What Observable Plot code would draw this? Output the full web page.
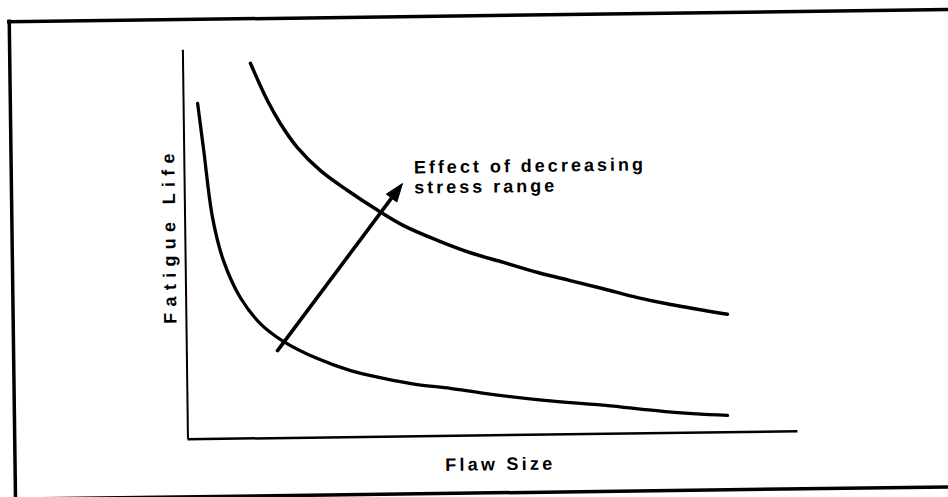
<!DOCTYPE html>
<html>
<head>
<meta charset="utf-8">
<script src="https://cdn.jsdelivr.net/npm/d3@7"></script>
<script src="https://cdn.jsdelivr.net/npm/@observablehq/plot@0.6"></script>
<style>
  html, body { margin: 0; padding: 0; background: #fff; overflow: hidden; width: 948px; height: 497px; scrollbar-width: none; }
  ::-webkit-scrollbar { display: none; width: 0; height: 0; }
  #wrap { position: relative; width: 948px; height: 497px; overflow: hidden; }
  #wrap svg { position: absolute; left: 0; top: 0; overflow: visible; transform: rotate(-0.75deg); transform-origin: 474px 248px; }
</style>
</head>
<body>
<div id="wrap"></div>
<script>
// Schematic values (arbitrary units, 0–100 on each axis)
const flawSizeLow  = [2.3, 3.2, 4.5, 6.2, 8.9, 12.1, 15.9, 21.4, 26.8, 32.2, 37.7, 43.1, 48.7, 58.5, 68.5, 78.3, 88.5];
const lifeLow      = [86.3, 74.2, 56.9, 45.8, 36.2, 29.5, 24.8, 20.3, 17.1, 15.0, 13.3, 12.2, 10.8, 8.8, 7.3, 5.5, 4.3];
const flawSizeHigh = [11.05, 13.75, 15.84, 18.57, 22.3, 26.7, 31.6, 35.8, 41.3, 46.7, 52.1, 57.7, 63.0, 68.4, 74.0, 79.4, 88.7];
const lifeHigh     = [96.4, 86.8, 80.8, 74.6, 68.6, 63.4, 58.2, 54.2, 50.3, 47.0, 44.4, 41.7, 39.5, 37.3, 34.9, 33.0, 30.3];
const arrowFlaw = [14.87, 35.7];   // tail, tip
const arrowLife = [22.5, 65.0];
const annotationLines = ["Effect of decreasing", "stress range"];
const xLabel = "Flaw Size";
const yLabel = "Fatigue Life";

const W = 948, H = 497;
const mL = 185, mR = 153, mT = 46, mB = 62;
const kx = (W - mL - mR) / 100, ky = (H - mT - mB) / 100; // px per unit

const lowCurve = flawSizeLow.map((x, i) => ({x, y: lifeLow[i]}));
const highCurve = flawSizeHigh.map((x, i) => ({x, y: lifeHigh[i]}));

// arrow geometry derived from the tail/tip values
const tail = {x: arrowFlaw[0], y: arrowLife[0]}, tip = {x: arrowFlaw[1], y: arrowLife[1]};
const sdx = (tip.x - tail.x) * kx, sdy = -(tip.y - tail.y) * ky;
const len = Math.hypot(sdx, sdy);
const ux = sdx / len, uy = sdy / len;
const nx = -uy, ny = ux;
const headL = 18, headW = 6.5, shaftBack = 12;
const toData = (p, ox, oy) => ({x: p.x + ox / kx, y: p.y - oy / ky});
const shaft = [tail, toData(tip, -ux * shaftBack, -uy * shaftBack)];
const base = toData(tip, -ux * headL, -uy * headL);
const head = [tip, toData(base, nx * headW, ny * headW), toData(base, -nx * headW, -ny * headW), tip];

// outer border of the figure, in the same units (beyond the axes)
const border = {left: -28.4, right: 140, top: 107.9, bottom: -14.8};

const font = "'Liberation Sans', Arial, Helvetica, sans-serif";

const svg = Plot.plot({
  width: W, height: H,
  marginLeft: mL, marginRight: mR, marginTop: mT, marginBottom: mB,
  x: {domain: [0, 100], axis: null},
  y: {domain: [0, 100], axis: null},
  style: {fontFamily: font, background: "none", color: "#000", overflow: "visible"},
  marks: [
    Plot.ruleY([border.top, border.bottom], {x1: border.left, x2: border.right, stroke: "#000", strokeWidth: 3.5, strokeLinecap: "square"}),
    Plot.ruleX([border.left], {y1: border.bottom, y2: border.top, stroke: "#000", strokeWidth: 3.5, strokeLinecap: "square"}),
    Plot.ruleX([0], {stroke: "#000", strokeWidth: 2}),
    Plot.ruleY([0], {stroke: "#000", strokeWidth: 2.5}),
    Plot.line(lowCurve, {x: "x", y: "y", curve: "catmull-rom", stroke: "#000", strokeWidth: 3.3, strokeLinecap: "round"}),
    Plot.line(highCurve, {x: "x", y: "y", curve: "catmull-rom", stroke: "#000", strokeWidth: 3.5, strokeLinecap: "round"}),
    Plot.line(shaft, {x: "x", y: "y", stroke: "#000", strokeWidth: 3.6, strokeLinecap: "round"}),
    Plot.line(head, {x: "x", y: "y", stroke: "#000", fill: "#000", strokeWidth: 1, strokeLinejoin: "miter"}),
    Plot.text([annotationLines.join("\n")], {
      x: () => 37.6, y: () => 62.4, text: d => d,
      textAnchor: "start", lineAnchor: "bottom", lineHeight: 1.12,
      fontSize: 18, fontWeight: "bold", fill: "#000"
    }),
    Plot.text([xLabel], {
      text: d => d, frameAnchor: "bottom", textAnchor: "middle", lineAnchor: "bottom", dx: 7, dy: 35,
      fontSize: 18, fontWeight: "bold", fill: "#000"
    }),
    Plot.text([yLabel], {
      text: d => d, frameAnchor: "left", textAnchor: "middle", rotate: -90, lineAnchor: "bottom", dx: -10, dy: -9.5,
      fontSize: 18, fontWeight: "bold", fill: "#000"
    })
  ]
});

svg.querySelectorAll("text").forEach(t => {
  const s = t.textContent;
  if (s.startsWith("Effect")) t.setAttribute("letter-spacing", "3");
  else if (s === xLabel) t.setAttribute("letter-spacing", "3.25");
  else if (s === yLabel) t.setAttribute("letter-spacing", "6.3");
});

document.getElementById("wrap").appendChild(svg);
</script>
</body>
</html>
